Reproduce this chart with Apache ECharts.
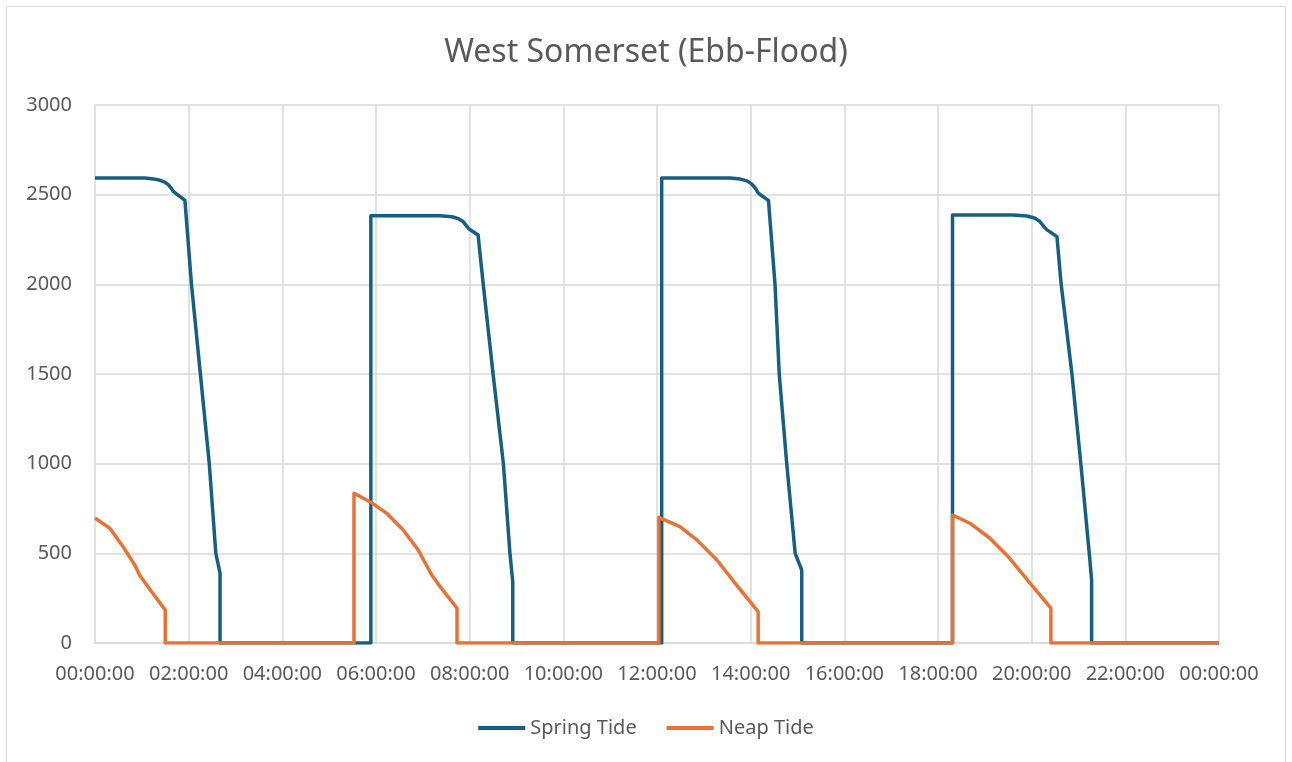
<!DOCTYPE html>
<html>
<head>
<meta charset="utf-8">
<title>West Somerset (Ebb-Flood)</title>
<script src="https://cdn.jsdelivr.net/npm/echarts@6/dist/echarts.min.js"></script>
<style>
  html, body { margin: 0; padding: 0; background: #ffffff; }
  #chart { width: 1292px; height: 762px; }
</style>
</head>
<body>
<div id="chart"></div>
<script>
// Flow through the sluices over one day; time in decimal hours, value per step.
const springTide = [
  [0.00, 2593], [1.07, 2593], [1.25, 2588], [1.39, 2580], [1.50, 2568], [1.57, 2555], [1.63, 2535],
  [1.67, 2518], [1.76, 2500], [1.92, 2468], [2.06, 2000], [2.25, 1500], [2.44, 1000], [2.58, 500],
  [2.67, 390], [2.67, 0], [5.89, 0],
  [5.89, 2383], [7.37, 2383], [7.62, 2377], [7.76, 2366], [7.86, 2350], [7.92, 2330], [7.98, 2310],
  [8.18, 2275], [8.29, 2000], [8.50, 1500], [8.72, 1000], [8.86, 500], [8.92, 342],
  [8.92, 0], [12.10, 0],
  [12.10, 2593], [13.56, 2593], [13.78, 2587], [13.92, 2577], [14.02, 2560], [14.09, 2540],
  [14.16, 2510], [14.23, 2495], [14.38, 2468], [14.52, 2000], [14.61, 1500], [14.77, 1000],
  [14.95, 500], [15.09, 407], [15.09, 0], [18.31, 0],
  [18.31, 2387], [19.60, 2387], [19.90, 2381], [20.06, 2370], [20.17, 2352], [20.25, 2325],
  [20.32, 2305], [20.54, 2266], [20.63, 2000], [20.86, 1500], [21.05, 1000], [21.23, 500],
  [21.28, 351], [21.28, 0], [24.00, 0]
];

const neapTide = [
  [0.00, 697], [0.32, 639], [0.60, 537], [0.85, 435], [0.95, 379], [1.21, 286], [1.50, 184],
  [1.50, 0], [5.53, 0],
  [5.53, 835], [5.87, 788], [6.23, 723], [6.58, 630], [6.90, 519], [7.19, 379], [7.37, 314], [7.73, 194],
  [7.73, 0], [12.04, 0],
  [12.04, 701], [12.49, 649], [12.85, 575], [13.28, 463], [13.70, 323], [14.16, 175],
  [14.16, 0], [18.31, 0],
  [18.31, 714], [18.68, 668], [19.11, 584], [19.50, 481], [19.97, 333], [20.41, 194],
  [20.41, 0], [24.00, 0]
];

const seriesNames = ['Spring Tide', 'Neap Tide'];
const seriesColors = ['#156082', '#E97132'];
const yTicks = { min: 0, max: 3000, step: 500 };
const xTicks = { min: 0, max: 24, step: 2 };

function hourLabel(h) {
  const hh = String(Math.round(h) % 24).padStart(2, '0');
  return hh + ':00:00';
}

const font = '"Noto Sans", "Liberation Sans", sans-serif';
const textGrey = '#595959';
const gridGrey = '#d9d9d9';

const chart = echarts.init(document.getElementById('chart'), null, { renderer: 'canvas' });

chart.setOption({
  animation: false,
  backgroundColor: '#ffffff',
  graphic: [{
    type: 'rect',
    shape: { x: 6.5, y: 6.5, width: 1279, height: 770 },
    style: { fill: 'none', stroke: gridGrey, lineWidth: 1 },
    silent: true,
    z: -1
  }],
  title: {
    text: 'West Somerset (Ebb-Flood)',
    left: 'center',
    top: 32,
    textStyle: { fontFamily: font, fontSize: 32, fontWeight: 'normal', color: textGrey }
  },
  legend: {
    bottom: 19,
    left: 'center',
    itemGap: 30,
    itemWidth: 47,
    itemHeight: 4,
    icon: 'rect',
    textStyle: { fontFamily: font, fontSize: 20, color: textGrey },
    data: seriesNames
  },
  grid: { left: 95, right: 73, top: 105, bottom: 119, containLabel: false },
  xAxis: {
    type: 'value',
    min: xTicks.min,
    max: xTicks.max,
    interval: xTicks.step,
    axisLine: { show: true, lineStyle: { color: gridGrey, width: 1.5 } },
    axisTick: { show: false },
    axisLabel: {
      margin: 21,
      fontFamily: font, fontSize: 20, color: textGrey,
      formatter: hourLabel
    },
    splitLine: { show: true, lineStyle: { color: gridGrey, width: 1.5 } }
  },
  yAxis: {
    type: 'value',
    min: yTicks.min,
    max: yTicks.max,
    interval: yTicks.step,
    axisLine: { show: false },
    axisTick: { show: false },
    axisLabel: {
      margin: 23, fontFamily: font, fontSize: 20, color: textGrey,
      formatter: v => String(v)
    },
    splitLine: { show: true, lineStyle: { color: gridGrey, width: 1.5 } }
  },
  series: [
    {
      name: seriesNames[0],
      type: 'line',
      data: springTide,
      showSymbol: false,
      color: seriesColors[0],
      lineStyle: { width: 3.5, color: seriesColors[0], join: 'round' },
      z: 3
    },
    {
      name: seriesNames[1],
      type: 'line',
      data: neapTide,
      showSymbol: false,
      color: seriesColors[1],
      lineStyle: { width: 3.5, color: seriesColors[1], join: 'round' },
      z: 4
    }
  ]
});
</script>
</body>
</html>
